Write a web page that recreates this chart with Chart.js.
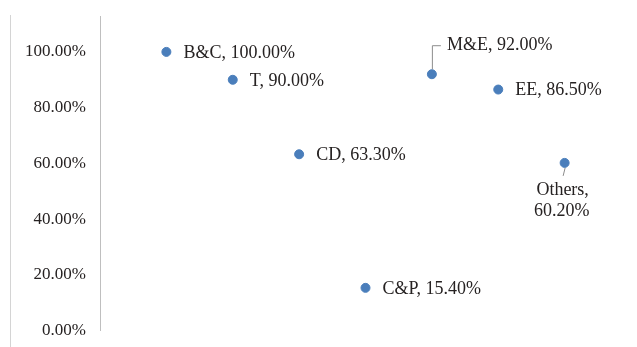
<!DOCTYPE html>
<html>
<head>
<meta charset="utf-8">
<script src="https://cdn.jsdelivr.net/npm/chart.js@4/dist/chart.umd.min.js"></script>
<style>
  html, body { margin: 0; padding: 0; background: #fff; }
  #wrap { width: 637px; height: 347px; }
</style>
</head>
<body>
<div id="wrap"><canvas id="graphs" width="637" height="347"></canvas></div>
<script>
const categories = ['B&C', 'T', 'CD', 'C&P', 'M&E', 'EE', 'Others'];
const values = [1.0, 0.9, 0.633, 0.154, 0.92, 0.865, 0.602];
const yTicks = [0, 0.2, 0.4, 0.6, 0.8, 1.0];

// where each data label sits relative to its point
const labelPlacement = ['right', 'right', 'right', 'right', 'above', 'right', 'below'];

const pointColor = 'rgb(74, 126, 187)';
const textColor = '#262222';
const labelFont = '18px "Liberation Serif", serif';

function pct(v) {
  return (v * 100).toFixed(2) + '%';
}

const dataLabels = {
  id: 'dataLabels',
  afterDatasetsDraw(chart) {
    const ctx = chart.ctx;
    const meta = chart.getDatasetMeta(0);
    ctx.save();
    ctx.font = labelFont;
    ctx.fillStyle = textColor;
    ctx.textBaseline = 'middle';
    meta.data.forEach((pt, i) => {
      const text = categories[i] + ', ' + pct(values[i]);
      const x = pt.x, y = pt.y;
      if (labelPlacement[i] === 'right') {
        ctx.textAlign = 'left';
        ctx.fillText(text, x + 17, y + 1);
      } else if (labelPlacement[i] === 'above') {
        ctx.strokeStyle = '#8c8c8c';
        ctx.lineWidth = 1;
        ctx.beginPath();
        ctx.moveTo(x + 0.5, y - 5);
        ctx.lineTo(x + 0.5, y - 28.5);
        ctx.lineTo(x + 9, y - 28.5);
        ctx.stroke();
        ctx.textAlign = 'left';
        ctx.fillText(text, x + 15, y - 29);
      } else {
        ctx.strokeStyle = '#8c8c8c';
        ctx.lineWidth = 1;
        ctx.beginPath();
        ctx.moveTo(x + 0.5, y + 5);
        ctx.lineTo(x - 1.5, y + 13);
        ctx.stroke();
        ctx.textAlign = 'center';
        ctx.fillText(categories[i] + ',', x - 2, y + 27);
        ctx.fillText(pct(values[i]), x - 3, y + 48);
      }
    });
    ctx.restore();
  }
};

const frameLine = {
  id: 'frameLine',
  beforeDraw(chart) {
    const ctx = chart.ctx;
    ctx.save();
    ctx.strokeStyle = '#d4d4d4';
    ctx.lineWidth = 1;
    ctx.beginPath();
    ctx.moveTo(10.5, 15);
    ctx.lineTo(10.5, 347);
    ctx.stroke();
    ctx.restore();
  }
};

let config = {
  type: 'scatter',
  data: {
    datasets: [
      {
        label: 'Share',
        data: values.map((v, i) => ({ x: i + 1, y: v })),
        backgroundColor: pointColor,
        borderColor: pointColor,
        pointRadius: 4.5,
        pointHoverRadius: 4.5
      }
    ]
  },
  options: {
    responsive: false,
    animation: false,
    layout: {
      padding: { top: 5, bottom: 2, right: 6, left: 0 }
    },
    plugins: {
      legend: { display: false },
      tooltip: { enabled: false }
    },
    scales: {
      x: {
        type: 'linear',
        display: false,
        min: 0,
        max: 8
      },
      y: {
        min: 0,
        max: 1.128,
        grid: { display: false },
        border: { display: true, color: '#bfbfbf', width: 1 },
        afterFit(scale) { scale.width = 100; },
        afterBuildTicks(scale) {
          scale.ticks = yTicks.map(v => ({ value: v }));
        },
        ticks: {
          padding: 6,
          color: textColor,
          font: { family: '"Liberation Serif", serif', size: 17 },
          callback: v => pct(v)
        }
      }
    }
  },
  plugins: [frameLine, dataLabels]
};

window.onload = function() {
  let ctx = document.querySelector('#graphs').getContext('2d');
  window.myScatter = new Chart(ctx, config);
};
</script>
</body>
</html>
